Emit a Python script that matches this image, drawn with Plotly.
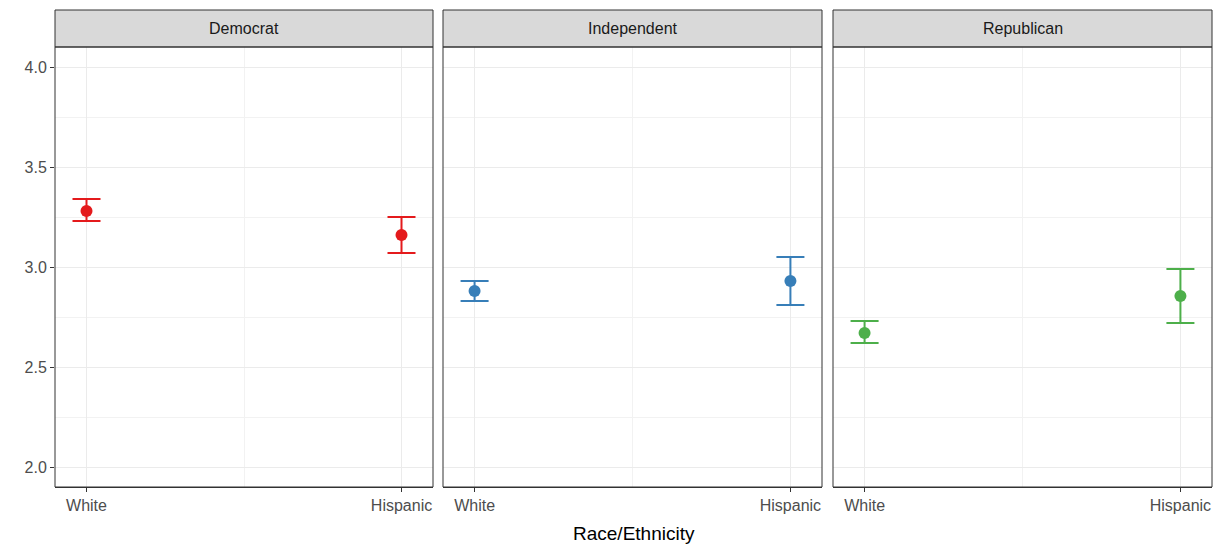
import plotly.graph_objects as go

parties = ["Democrat", "Independent", "Republican"]
categories = ["White", "Hispanic"]
means = {"Democrat": [3.28, 3.16], "Independent": [2.88, 2.93], "Republican": [2.67, 2.855]}
lower = {"Democrat": [3.23, 3.07], "Independent": [2.83, 2.81], "Republican": [2.62, 2.72]}
upper = {"Democrat": [3.34, 3.25], "Independent": [2.93, 3.05], "Republican": [2.73, 2.99]}
colors = {"Democrat": "#E41A1C", "Independent": "#377EB8", "Republican": "#4DAF4A"}

W, H = 1225, 548
ml, mr, mt, mb = 55, 13, 10, 61
pw = W - ml - mr
ph = H - mt - mb
panels_px = [(55, 433), (443, 822), (833, 1212)]
doms = [((a - ml) / pw, (b - ml) / pw) for a, b in panels_px]
ytop = 440 / ph

fig = go.Figure()
for i, p in enumerate(parties):
    xa = "x" if i == 0 else f"x{i+1}"
    m = means[p]
    fig.add_trace(go.Scatter(
        x=[0, 1], y=m, mode="markers", xaxis=xa, yaxis="y",
        marker=dict(color=colors[p], size=12),
        error_y=dict(type="data", symmetric=False,
                     array=[u - v for u, v in zip(upper[p], m)],
                     arrayminus=[v - l for v, l in zip(m, lower[p])],
                     color=colors[p], thickness=2, width=14),
        showlegend=False))
    axname = "xaxis" if i == 0 else f"xaxis{i+1}"
    fig.layout[axname] = dict(
        domain=list(doms[i]), range=[-0.1, 1.1], anchor="y",
        tickvals=[0, 1], ticktext=categories, ticks="outside", ticklen=4,
        tickcolor="#333333", tickfont=dict(size=16, color="#4d4d4d", family="Liberation Sans"),
        showgrid=True, gridcolor="#ebebeb", gridwidth=1.2,
        minor=dict(tickvals=[0.5], showgrid=True, gridcolor="#f2f2f2", gridwidth=0.8),
        showline=True, linecolor="#333333", mirror=True, zeroline=False, fixedrange=True)
    fig.add_shape(type="rect", xref="paper", yref="paper", x0=doms[i][0], x1=doms[i][1],
                  y0=ytop, y1=1, fillcolor="#d9d9d9", line=dict(color="#333333", width=1))
    fig.add_annotation(text=p, xref="paper", yref="paper", x=(doms[i][0] + doms[i][1]) / 2,
                       y=(ytop + 1) / 2, xanchor="center", yanchor="middle", showarrow=False,
                       font=dict(size=16, color="#1a1a1a", family="Liberation Sans"))

fig.update_layout(
    width=W, height=H, margin=dict(l=ml, r=mr, t=mt, b=mb),
    plot_bgcolor="white", paper_bgcolor="white",
    yaxis=dict(domain=[0, ytop], range=[1.9, 4.1], tickvals=[2.0, 2.5, 3.0, 3.5, 4.0],
               ticktext=["2.0", "2.5", "3.0", "3.5", "4.0"], ticks="outside", ticklen=4,
               tickcolor="#333333", tickfont=dict(size=16, color="#4d4d4d", family="Liberation Sans"),
               showgrid=True, gridcolor="#ebebeb", gridwidth=1.2,
               minor=dict(tickvals=[2.25, 2.75, 3.25, 3.75], showgrid=True, gridcolor="#f2f2f2", gridwidth=0.8),
               showline=False, zeroline=False, fixedrange=True),
)
for i in range(3):
    fig.add_shape(type="rect", xref="paper", yref="paper", x0=doms[i][0], x1=doms[i][1],
                  y0=0, y1=ytop, line=dict(color="#333333", width=1))
fig.add_annotation(text="Race/Ethnicity", xref="paper", yref="paper", x=0.5, y=-0.097,
                   xanchor="center", yanchor="middle", showarrow=False,
                   font=dict(size=19, color="black", family="Liberation Sans"))
fig.write_html("out.html", config={"displayModeBar": False},
               post_script="document.body.style.margin='0';document.body.style.overflow='hidden';")
